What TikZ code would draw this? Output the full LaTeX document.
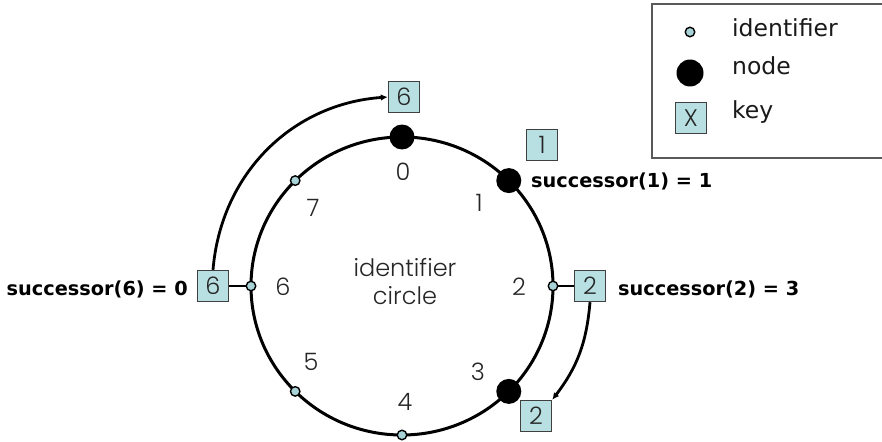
\documentclass[tikz,border=0pt]{standalone}
\usepackage{fontspec}
\setmainfont{DejaVu Sans}
\newfontfamily\thinfont{Poppins Light}
\usetikzlibrary{arrows.meta}

\definecolor{keyfill}{HTML}{B8E0E2}
\definecolor{idfill}{HTML}{A8D4D8}

\tikzset{
  ring/.style={line width=3pt},
  idpt/.style={circle, draw=black, fill=idfill, line width=1.4pt, minimum size=9.5pt, inner sep=0pt},
  nodept/.style={circle, fill=black, minimum size=25pt, inner sep=0pt},
  keybox/.style={draw=black!75, fill=keyfill, line width=1.4pt, minimum size=31pt, inner sep=0pt,
                 font=\thinfont\fontsize{24}{24}\selectfont, text=black!85},
  idnum/.style={font=\thinfont\fontsize{24}{24}\selectfont, text=black!85, inner sep=0pt},
  succ/.style={font=\bfseries\fontsize{19.3}{19.3}\selectfont, inner sep=0pt},
  legtext/.style={font=\fontsize{23.5}{23.5}\selectfont, anchor=base west, text=black!90, inner sep=0pt},
  link/.style={line width=2.8pt},
  hop/.style={line width=2.8pt, -{Latex[length=7pt,width=6.5pt]}},
}

\begin{document}
\begin{tikzpicture}[x=1pt,y=-1pt]
\useasboundingbox (0,0) rectangle (882,441);

% identifier circle
\draw[ring] (402,286) ellipse [x radius=151, y radius=149];

% points of the identifier space
\node[nodept] (p0) at (402,137) {};
\node[nodept] (p1) at (508.8,180.6) {};
\node[idpt]   (p2) at (553,286) {};
\node[nodept] (p3) at (508.8,391.4) {};
\node[idpt]   (p4) at (402,435) {};
\node[idpt]   (p5) at (295.2,391.4) {};
\node[idpt]   (p6) at (251,286) {};
\node[idpt]   (p7) at (295.2,180.6) {};

% identifier numbers
\node[idnum] (n0) at (403,172) {0};
\node[idnum] (n1) at (479,203) {1};
\node[idnum] (n2) at (519,287) {2};
\node[idnum] (n3) at (478,372) {3};
\node[idnum] (n4) at (405,402) {4};
\node[idnum] (n5) at (311,362) {5};
\node[idnum] (n6) at (283,287) {6};
\node[idnum] (n7) at (313,208) {7};

\node[idnum, align=center, font=\thinfont\fontsize{24}{28}\selectfont] (title) at (405,282) {identifier\\circle};

% keys
\node[keybox] (k6t) at (404,97) {6};
\node[keybox] (k1)  at (542,145) {1};
\node[keybox] (k2r) at (590,286) {2};
\node[keybox] (k2b) at (536,416) {2};
\node[keybox] (k6l) at (213,286) {6};

% keys attached to identifiers
\draw[link] (p2) -- (k2r);
\draw[link] (p6) -- (k6l);

% keys moved to their successors
\draw[hop] (k6l.north) to[bend left=40.6] (k6t.west);
\draw[hop] (k2r.south) to[bend left=16.3] (k2b.north east);

% successor labels
\node[succ, anchor=base west] (s1) at (531,187) {successor(1) = 1};
\node[succ, anchor=base west] (s2) at (618,295) {successor(2) = 3};
\node[succ, anchor=base east] (s6) at (188,295) {successor(6) = 0};

% legend
\draw[draw=black!65, line width=2pt] (652,4) rectangle (900,158);
\node[idpt] (lid) at (690,32) {};
\node[legtext] (lidt) at (732,37) {identifier};
\node[nodept, minimum size=27pt] (lnode) at (690,73) {};
\node[legtext] (lnodet) at (732,75) {node};
\node[keybox] (lkey) at (691,118) {X};
\node[legtext] (lkeyt) at (732,118) {key};
\end{tikzpicture}
\end{document}
